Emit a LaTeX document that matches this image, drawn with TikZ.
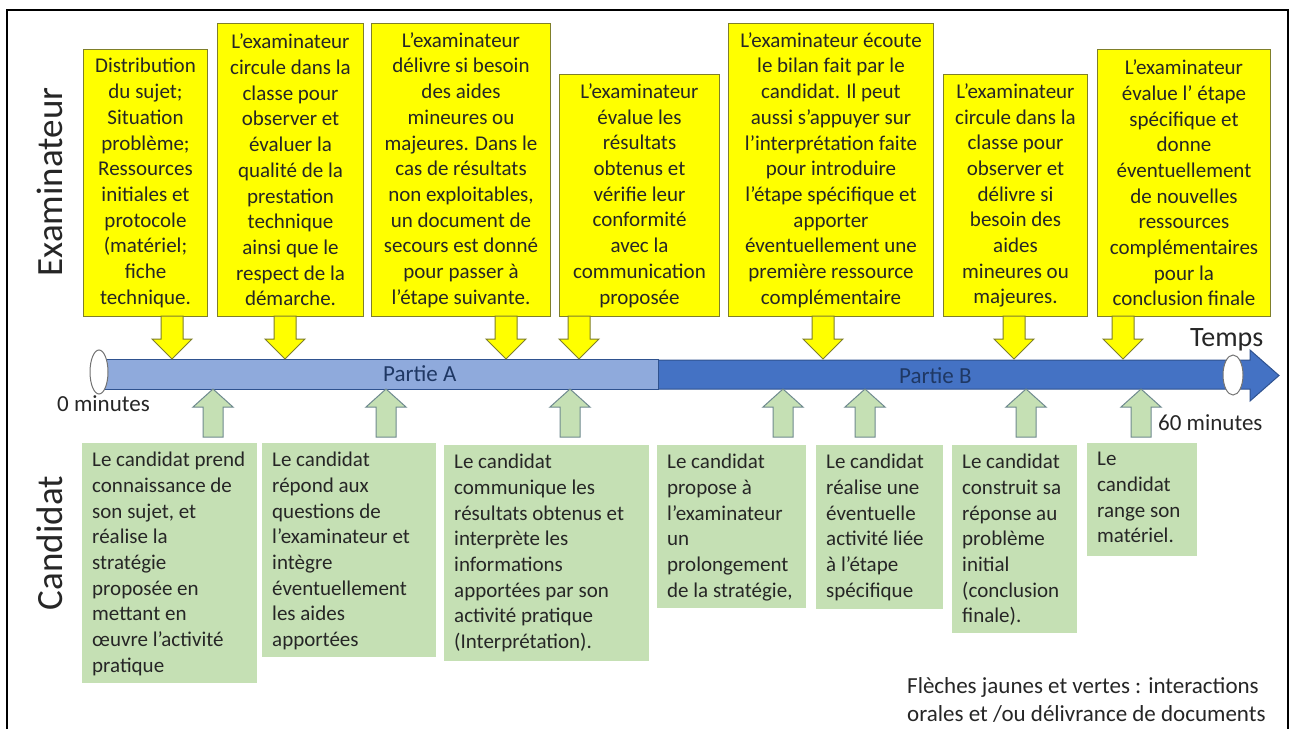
\documentclass[tikz,border=0pt]{standalone}
\usepackage{fontspec}
\setmainfont{Carlito}
\definecolor{yel}{HTML}{FFFF00}
\definecolor{yelline}{HTML}{7F7F2A}
\definecolor{grn}{HTML}{C5E0B4}
\definecolor{grnline}{HTML}{6F8A8F}
\definecolor{barlight}{HTML}{8FAADC}
\definecolor{bardark}{HTML}{4472C4}
\definecolor{barline}{HTML}{2F528F}
\definecolor{navy}{HTML}{1F3864}
\definecolor{txt}{HTML}{262626}
\begin{document}
\begin{tikzpicture}[x=1pt,y=-1pt,
  ybox/.style={draw=yelline, fill=yel, line width=1pt, align=center, inner sep=0pt, anchor=north west,
    font=\fontsize{21pt}{25.7pt}\selectfont, text=txt},
  gbox/.style={fill=grn, inner sep=0pt, anchor=north west},
  gtext/.style={align=left, inner sep=0pt, anchor=north west, font=\fontsize{21pt}{25.7pt}\selectfont, text=txt},
  yarrow/.style={fill=yel, draw=yelline, line width=1pt},
  garrow/.style={fill=grn, draw=grnline, line width=1pt},
  side/.style={rotate=90, inner sep=0pt, font=\fontsize{37pt}{40pt}\selectfont, text=txt},
  small/.style={font=\fontsize{23pt}{28pt}\selectfont, inner sep=0pt, anchor=base west, text=txt},
  ends/.style={fill=white, draw=black!55, line width=1pt}
]
\useasboundingbox (0,0) rectangle (1290,729);
\fill[white] (0,0) rectangle (1290,729);
% frame
\draw[line width=2pt] (7,729) -- (7,10) -- (1288,10) -- (1288,729);

% side labels
\node[side] (exam) at (50,182) {Examinateur};
\node[side] (cand) at (50,543) {Candidat};

% time bar
\filldraw[fill=bardark, draw=barline, line width=1pt] (99,360) -- (1250,360) -- (1250,350) -- (1279,375.5) -- (1250,401) -- (1250,389) -- (99,389) -- cycle;
\filldraw[fill=barlight, draw=barline, line width=1pt] (99,359) rectangle (658,389);
\draw[ends] (99,372) ellipse [x radius=9pt, y radius=22pt];
\draw[ends] (1233,375) ellipse [x radius=10pt, y radius=20pt];
\node[small, text=navy] (pa) at (383,381) {Partie A};
\node[small, text=navy] (pb) at (899,383) {Partie B};
\node[small] (t0) at (57,411) {0 minutes};
\node[small] (t60) at (1158,430) {60 minutes};
\node[small, font=\fontsize{28pt}{30pt}\selectfont] (temps) at (1190,346) {Temps};

% yellow boxes
\node[ybox, minimum width=124pt, minimum height=267pt] (y1) at (83,49)
  {Distribution\\du sujet;\\Situation\\problème;\\Ressources\\initiales et\\protocole\\(matériel;\\fiche\\technique.};
\node[ybox, minimum width=146pt, minimum height=293pt] (y2) at (217,23)
  {L’examinateur\\circule dans la\\classe pour\\observer et\\évaluer la\\qualité  de la\\prestation\\technique\\ainsi que le\\respect de la\\démarche.};
\node[ybox, minimum width=179pt, minimum height=293pt] (y3) at (371,23)
  {L’examinateur\\délivre si besoin\\des aides\\mineures ou\\majeures. Dans le\\cas de résultats\\non exploitables,\\un document de\\secours est donné\\pour passer à\\l'étape suivante.};
\node[ybox, minimum width=160pt, minimum height=242pt] (y4) at (559,74)
  {L’examinateur\\évalue les\\résultats\\obtenus et\\vérifie leur\\conformité\\avec la\\communication\\proposée};
\node[ybox, minimum width=205pt, minimum height=293pt] (y5) at (728,23)
  {L’examinateur écoute\\le bilan fait  par le\\candidat. Il peut\\aussi s’appuyer sur\\l’interprétation faite\\pour introduire\\l’étape spécifique et\\apporter\\éventuellement une\\première ressource\\complémentaire};
\node[ybox, minimum width=144pt, minimum height=242pt] (y6) at (943,74)
  {L’examinateur\\circule dans la\\classe pour\\observer et\\délivre si\\besoin des\\aides\\mineures ou\\majeures.};
\node[ybox, minimum width=173pt, minimum height=267pt] (y7) at (1097,49)
  {L’examinateur\\évalue l’ étape\\spécifique et\\donne\\éventuellement\\de nouvelles\\ressources\\complémentaires\\pour la\\conclusion finale};

% yellow arrows (examiner -> time line)
\foreach \x in {172,285,506,579,823,1014,1123}
  \draw[yarrow] ({\x-11},316) -- ({\x+11},316) -- ({\x+11},339) -- ({\x+20},339) -- (\x,359)
    -- ({\x-20},339) -- ({\x-11},339) -- cycle;

% green arrows (candidate -> time line)
\foreach \x in {213,386,570,783,865,1026,1141}
  \draw[garrow] ({\x-10},437) -- ({\x+10},437) -- ({\x+10},407) -- ({\x+20},407) -- (\x,389)
    -- ({\x-20},407) -- ({\x-10},407) -- cycle;

% green boxes
\node[gbox, minimum width=175pt, minimum height=240pt] (g1) at (82,443) {};
\node[gbox, minimum width=174pt, minimum height=214pt] (g2) at (262,443) {};
\node[gbox, minimum width=205pt, minimum height=216pt] (g3) at (444,445) {};
\node[gbox, minimum width=149pt, minimum height=163pt] (g4) at (657,445) {};
\node[gbox, minimum width=127pt, minimum height=164pt] (g5) at (816,445) {};
\node[gbox, minimum width=125pt, minimum height=188pt] (g6) at (952,445) {};
\node[gbox, minimum width=110pt, minimum height=113pt] (g7) at (1087,443) {};

\node[gtext] (g1t) at (92,452) {Le candidat prend\\connaissance de\\son sujet, et\\réalise la\\stratégie\\proposée en\\mettant en\\œuvre l’activité\\pratique};
\node[gtext] (g2t) at (272,452) {Le candidat\\répond aux\\questions de\\l’examinateur et\\intègre\\éventuellement\\les aides\\apportées};
\node[gtext] (g3t) at (454,454) {Le candidat\\communique les\\résultats obtenus et\\interprète les\\informations\\apportées par son\\activité pratique\\(Interprétation).};
\node[gtext] (g4t) at (667,454) {Le candidat\\propose à\\l’examinateur\\un\\prolongement\\de la stratégie,};
\node[gtext] (g5t) at (826,454) {Le candidat\\réalise une\\éventuelle\\activité liée\\à l’étape\\spécifique};
\node[gtext] (g6t) at (962,454) {Le candidat\\construit sa\\réponse au\\problème\\initial\\(conclusion\\finale).};
\node[gtext] (g7t) at (1097,452) {Le\\candidat\\range son\\matériel.};

% footer
\node[small] (f1) at (907,693) {Flèches jaunes et vertes : interactions};
\node[small] (f2) at (907,721) {orales et /ou délivrance de documents};
\end{tikzpicture}
\end{document}
